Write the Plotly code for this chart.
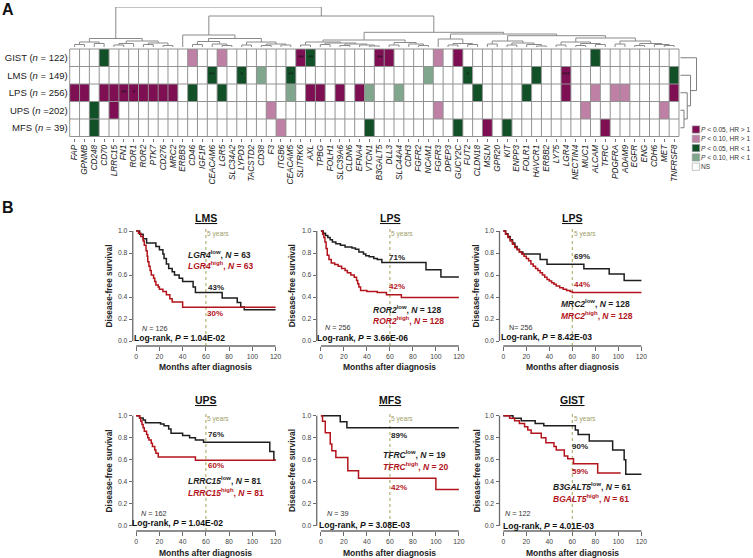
import plotly.graph_objects as go

W, H = 753, 558
FONT = "Liberation Sans, Arial, Helvetica, sans-serif"
INK = "#222222"
RED = "#b3141c"
BLK = "#1e1e1e"

# ---------------- data: heatmap ----------------
genes = ["FAP", "GPNMB", "CD248", "CD70", "LRRC15", "FN1", "ROR1", "ROR2", "PTK7", "CD276",
         "MRC2", "ERBB3", "CD46", "IGF1R", "CEACAM6", "LGR5", "SLC34A2", "LYPD3", "TACSTD2", "CD38",
         "F3", "ITGB6", "CEACAM5", "SLITRK6", "AXL", "TPBG", "FOLH1", "SLC39A6", "CLDN6", "EFNA4",
         "VTCN1", "B3GALT5", "DLL3", "SLC44A4", "CDH3", "FGFR2", "NCAM1", "FGFR3", "DPEP3", "GUCY2C",
         "FUT2", "CLDN18", "MSLN", "GPR20", "KIT", "ENPP3", "FOLR1", "HAVCR1", "ERBB2", "LY75",
         "LGR4", "NECTIN4", "MUC1", "ALCAM", "TFRC", "PDGFRA", "ADAM9", "EGFR", "ENG", "CDH6",
         "MET", "TNFRSF8"]
sarcomas = ["GIST", "LMS", "LPS", "UPS", "MFS"]
sarcoma_n = ["= 122", "= 149", "= 256", "=202", "= 39"]

# category codes: 0 NS, 1 P<0.05 HR>1, 2 P<0.10 HR>1, 3 P<0.05 HR<1, 4 P<0.10 HR<1
gist_sig = {"CD70": 3, "CD46": 2, "LGR5": 2, "SLITRK6": 1, "AXL": 3, "B3GALT5": 1, "DLL3": 1,
            "FGFR3": 2, "GUCY2C": 1, "ALCAM": 3}
lms_sig = {"CEACAM6": 3, "LYPD3": 3, "CD38": 4, "CEACAM5": 3, "NCAM1": 4, "FUT2": 3, "HAVCR1": 3,
           "LGR4": 1, "TNFRSF8": 3}
lps_sig = {"FAP": 1, "GPNMB": 1, "CD70": 1, "LRRC15": 1, "FN1": 1, "ROR1": 1, "ROR2": 1, "PTK7": 1,
           "CD276": 1, "MRC2": 1, "CD46": 3, "LGR5": 3, "CEACAM5": 4, "AXL": 1, "TPBG": 1,
           "SLC39A6": 1, "EFNA4": 1, "VTCN1": 4, "SLC44A4": 4, "CLDN18": 3, "FOLR1": 3, "LGR4": 1,
           "ALCAM": 2, "PDGFRA": 2, "ADAM9": 2, "TNFRSF8": 1}
ups_sig = {"CD248": 3, "LRRC15": 1, "F3": 2, "FGFR3": 2, "MUC1": 2, "MET": 2}
mfs_sig = {"CD248": 3, "ITGB6": 2, "VTCN1": 3, "GUCY2C": 3, "MSLN": 1, "KIT": 3, "TFRC": 1}
sig_maps = [gist_sig, lms_sig, lps_sig, ups_sig, mfs_sig]

stars = {("GIST", "SLITRK6"): "**", ("GIST", "AXL"): "**", ("GIST", "B3GALT5"): "**",
         ("LMS", "CEACAM6"): "**", ("LMS", "LYPD3"): "*", ("LMS", "CEACAM5"): "**",
         ("LMS", "FUT2"): "*", ("LMS", "LGR4"): "***", ("LPS", "FN1"): "**", ("LPS", "ROR1"): "*"}

cat_colors = ["#ffffff", "#7d0f52", "#be80a5", "#125028", "#80a68e"]
cat_labels = ["<i>P</i> &lt; 0.05, HR &gt; 1", "<i>P</i> &lt; 0.10, HR &gt; 1",
              "<i>P</i> &lt; 0.05, HR &lt; 1", "<i>P</i> &lt; 0.10, HR &lt; 1", "NS"]
legend_codes = [1, 2, 3, 4, 0]

# column dendrogram: [left, right, merge height]; leaves = column index
col_tree = [
    [[[0, 1, 2.5], [2, 3, 3.5], 5.0],
     [[[4, 5, 2.0], 6, 3.5], [[7, 8, 2.5], [9, 10, 1.5], 4.0], 6.0], 8.5],
    [[11,
      [[[12, 13, 2.5], [14, [15, 16, 1.5], 3.0], 5.5],
       [[17, 18, 2.0], [[19, 20, 1.5], [21, 22, 2.0], 3.0], 5.0], 8.5], 12.0],
     [[[[23, 24, 2.0], [[25, 26, 2.5], [[27, 28, 1.5], [29, [30, 31, 1.0], 2.0], 3.0], 4.0], 5.0],
       [[32, 33, 2.0], [34, [35, 36, 1.5], 3.0], 4.5], 7.0],
      [[37, [[38, 39, 2.0], [40, 41, 2.5], 3.5], 8.0],
       [[[42, 43, 3.0], [[44, 45, 2.0], [46, [47, 48, 1.0], 2.5], 4.0], 6.0],
        [[[49, 50, 2.0], [[51, 52, 1.5], [53, 54, 2.5], 3.5], 5.0],
         [[55, 56, 3.0], [[57, 58, 1.5], [59, [60, 61, 1.5], 2.5], 3.5], 6.0], 9.0], 11.3], 13.0],
      14.7], 31.0],
    40.0]
# row dendrogram (rows: GIST, LMS, LPS, UPS, MFS)
row_tree = [[[[3, 4, 3.7], 2, 7.0], 1, 10.3], 0, 16.3]

# ---------------- data: Kaplan-Meier curves ----------------
lgr4_low_t = [0, 3, 6, 9, 17, 20, 23, 24, 26, 28, 31, 33, 37, 40, 49, 51, 74, 87, 90, 93, 120]
lgr4_low_s = [1, 0.97, 0.93, 0.89, 0.86, 0.83, 0.79, 0.75, 0.70, 0.66, 0.63, 0.60, 0.57, 0.54, 0.49,
              0.44, 0.39, 0.35, 0.31, 0.285, 0.285]
lgr4_high_t = [0, 2, 4, 6, 7, 8.5, 9.5, 10, 11, 12, 13, 15, 16, 17, 19, 20, 23, 26, 29, 31, 40, 120]
lgr4_high_s = [1, 0.98, 0.95, 0.91, 0.87, 0.82, 0.77, 0.72, 0.68, 0.64, 0.60, 0.57, 0.54, 0.51, 0.49,
               0.47, 0.45, 0.42, 0.385, 0.355, 0.306, 0.306]

ror2_low_t = [0, 2, 4, 6, 8, 10, 13, 17, 21, 27, 30, 33, 37, 39, 42, 46, 49, 53, 91.4, 104.4, 120]
ror2_low_s = [1, 0.98, 0.96, 0.94, 0.92, 0.90, 0.885, 0.87, 0.855, 0.845, 0.835, 0.81, 0.79, 0.775,
              0.765, 0.75, 0.74, 0.713, 0.648, 0.581, 0.581]
ror2_high_t = [0, 1.5, 2.5, 3.5, 4.5, 5.5, 7, 9, 12, 15, 18, 21, 23, 26, 29, 31, 32, 33, 34.5, 40, 49,
               57, 70, 120]
ror2_high_s = [1, 0.97, 0.94, 0.90, 0.84, 0.78, 0.74, 0.71, 0.695, 0.68, 0.66, 0.64, 0.62, 0.60, 0.58,
               0.55, 0.52, 0.49, 0.46, 0.45, 0.44, 0.42, 0.395, 0.395]

mrc2_low_t = [0, 2, 4, 6, 8, 10, 12, 14, 17, 32, 38, 70, 92, 105, 120]
mrc2_low_s = [1, 0.975, 0.95, 0.92, 0.89, 0.86, 0.835, 0.81, 0.79, 0.74, 0.697, 0.657, 0.61, 0.55, 0.55]
mrc2_high_t = [0, 2, 4, 6, 8, 10, 12, 14, 16, 18, 20, 22, 24, 26, 28, 30, 32, 34, 36, 38, 40, 42, 44,
               46, 49, 52, 55, 58, 60, 120]
mrc2_high_s = [1, 0.97, 0.94, 0.91, 0.88, 0.85, 0.83, 0.81, 0.79, 0.77, 0.75, 0.73, 0.70, 0.68, 0.66,
               0.64, 0.62, 0.60, 0.58, 0.56, 0.545, 0.53, 0.515, 0.50, 0.485, 0.47, 0.46, 0.45, 0.44,
               0.44]

lrrc15_low_t = [0, 3, 6, 8, 21, 24, 28, 30, 40, 46, 51, 58, 115, 118.5, 120]
lrrc15_low_s = [1, 0.98, 0.96, 0.935, 0.925, 0.91, 0.88, 0.84, 0.82, 0.80, 0.78, 0.76, 0.675, 0.60, 0.60]
lrrc15_high_t = [0, 3, 4, 5, 6, 7, 9, 10, 11, 13, 14, 16, 17, 19, 51, 120]
lrrc15_high_s = [1, 0.98, 0.95, 0.92, 0.89, 0.86, 0.83, 0.80, 0.78, 0.75, 0.72, 0.69, 0.66, 0.625,
                 0.595, 0.595]

tfrc_low_t = [0, 16.8, 22.6, 120]
tfrc_low_s = [1, 0.945, 0.89, 0.89]
tfrc_high_t = [0, 1.4, 3.8, 8.1, 9.5, 13, 23.4, 32.7, 100, 120]
tfrc_high_s = [1, 0.95, 0.846, 0.743, 0.683, 0.622, 0.50, 0.432, 0.332, 0.332]

b3galt5_low_t = [0, 8.4, 15.6, 27.7, 35.2, 62.6, 65, 74.7, 95, 105, 106.4, 120]
b3galt5_low_s = [1, 0.976, 0.955, 0.93, 0.91, 0.87, 0.83, 0.77, 0.69, 0.60, 0.47, 0.47]
b3galt5_high_t = [0, 5.5, 9.8, 14, 18.5, 21.3, 24.2, 33, 37, 44, 46, 53, 56, 61, 82, 102]
b3galt5_high_s = [1, 0.976, 0.955, 0.93, 0.90, 0.87, 0.84, 0.80, 0.755, 0.72, 0.69, 0.635, 0.61,
                  0.565, 0.48, 0.48]

panel_titles = ["LMS", "LPS", "LPS", "UPS", "MFS", "GIST"]
panel_low = [(lgr4_low_t, lgr4_low_s), (ror2_low_t, ror2_low_s), (mrc2_low_t, mrc2_low_s),
             (lrrc15_low_t, lrrc15_low_s), (tfrc_low_t, tfrc_low_s), (b3galt5_low_t, b3galt5_low_s)]
panel_high = [(lgr4_high_t, lgr4_high_s), (ror2_high_t, ror2_high_s), (mrc2_high_t, mrc2_high_s),
              (lrrc15_high_t, lrrc15_high_s), (tfrc_high_t, tfrc_high_s),
              (b3galt5_high_t, b3galt5_high_s)]
gene_low = ["LGR4", "ROR2", "MRC2", "LRRC15", "TFRC", "B3GALT5"]
gene_high = ["LGR4", "ROR2", "MRC2", "LRRC15", "TFRC", "BGALT5"]
n_low = [63, 128, 128, 81, 19, 61]
n_high = [63, 128, 128, 81, 20, 61]
pct_low = ["43%", "71%", "69%", "76%", "89%", "90%"]
pct_high = ["30%", "42%", "44%", "60%", "42%", "59%"]
n_total = ["<i>N</i> = 126", "<i>N</i> = 256", "N= 256", "<i>N</i> = 162", "<i>N</i> = 39",
           "<i>N</i> = 122"]
logrank_p = ["1.04E-02", "3.66E-06", "8.42E-03", "1.04E-02", "3.08E-03", "4.01E-03"]
x_ticks = [0, 20, 40, 60, 80, 100, 120]
y_ticks = [0, 0.2, 0.4, 0.6, 0.8, 1.0]
five_years = 60

# ---------------- helpers ----------------
def fx(px):
    return px / W


def fy(py):
    return 1 - py / H


fig = go.Figure()


def note(x, y, text, size, color=INK, xanchor="left", angle=0):
    fig.add_annotation(x=fx(x), y=fy(y), xref="paper", yref="paper", text=text, showarrow=False,
                       xanchor=xanchor, yanchor="middle", textangle=angle, borderpad=0,
                       borderwidth=0, font=dict(family=FONT, size=size, color=color))


def dendro(node, segs):
    if isinstance(node, int):
        return float(node), 0.0
    a, b, h = node
    pa, ha = dendro(a, segs)
    pb, hb = dendro(b, segs)
    segs.append(((pa, ha), (pa, h), (pb, h), (pb, hb)))
    return (pa + pb) / 2.0, h


# ---------------- heatmap ----------------
ncol, nrow = len(genes), len(sarcomas)
z = [[sig.get(g, 0) for g in genes] for sig in sig_maps]
txt = [[stars.get((s, g), "") for g in genes] for s in sarcomas]
cscale = []
for i, c in enumerate(cat_colors):
    cscale += [[i / 5, c], [(i + 1) / 5, c]]
fig.add_trace(go.Heatmap(z=z, x=list(range(ncol)), y=list(range(nrow)), text=txt,
                         texttemplate="%{text}", textfont=dict(size=6.5, color="#151515"),
                         colorscale=cscale, zmin=-0.5, zmax=4.5, showscale=False,
                         hoverinfo="skip", xaxis="x", yaxis="y"))
gx, gy = [], []
for k in range(ncol + 1):
    gx += [k - 0.5, k - 0.5, None]
    gy += [-0.5, nrow - 0.5, None]
for r in range(nrow + 1):
    gx += [-0.5, ncol - 0.5, None]
    gy += [r - 0.5, r - 0.5, None]
fig.add_trace(go.Scatter(x=gx, y=gy, mode="lines", line=dict(color="#929292", width=1),
                         hoverinfo="skip", xaxis="x", yaxis="y"))

# dendrograms
segs = []
dendro(col_tree, segs)
dx, dy = [], []
for s in segs:
    dx += [p[0] for p in s] + [None]
    dy += [p[1] for p in s] + [None]
fig.add_trace(go.Scatter(x=dx, y=dy, mode="lines", line=dict(color="#8a8a8a", width=1),
                         hoverinfo="skip", xaxis="x2", yaxis="y2"))
segs = []
dendro(row_tree, segs)
rx, ry = [], []
for s in segs:
    rx += [p[1] for p in s] + [None]
    ry += [p[0] for p in s] + [None]
fig.add_trace(go.Scatter(x=rx, y=ry, mode="lines", line=dict(color="#7e7e7e", width=1),
                         hoverinfo="skip", xaxis="x3", yaxis="y3"))

# heatmap geometry (pixels)
HX0, HX1, HY0, HY1 = 70, 681.7, 49, 136.5
cw = (HX1 - HX0) / ncol
rh = (HY1 - HY0) / nrow
ex, ey = 0.1, 0.06
hm_xdom = [fx(HX0 - ex * cw), fx(HX1 + ex * cw)]
hm_ydom = [fy(HY1 + ey * rh), fy(HY0 - ey * rh)]
hm_xr = [-0.5 - ex, ncol - 0.5 + ex]
hm_yr = [nrow - 0.5 + ey, -0.5 - ey]

layout = dict(
    width=W, height=H, margin=dict(l=0, r=0, t=0, b=0),
    paper_bgcolor="white", plot_bgcolor="white", showlegend=False,
    font=dict(family=FONT, color=INK),
    xaxis=dict(domain=hm_xdom, range=hm_xr, tickvals=list(range(ncol)),
               ticktext=[f"<i>{g}</i>" for g in genes], tickangle=-90, ticks="outside",
               ticklen=3, tickcolor="#777", tickwidth=1, showgrid=False, zeroline=False,
               tickfont=dict(size=8.2, color=INK), anchor="y", showline=False),
    yaxis=dict(domain=hm_ydom, range=hm_yr, tickvals=list(range(nrow)),
               ticktext=[f"{s} (<i>n</i> {n})" for s, n in zip(sarcomas, sarcoma_n)],
               ticks="", showgrid=False, zeroline=False, tickfont=dict(size=9.5, color=INK),
               anchor="x", showline=False),
    xaxis2=dict(domain=hm_xdom, range=hm_xr, visible=False, anchor="y2"),
    yaxis2=dict(domain=[fy(47), fy(7)], range=[0, 40], visible=False, anchor="x2"),
    xaxis3=dict(domain=[fx(683), fx(700)], range=[0, 17], visible=False, anchor="y3"),
    yaxis3=dict(domain=hm_ydom, range=hm_yr, visible=False, anchor="x3"),
)

shapes = []

# legend
for i, (code, lab) in enumerate(zip(legend_codes, cat_labels)):
    cy = 129.5 + 9.3 * i
    shapes.append(dict(type="rect", xref="paper", yref="paper", x0=fx(695), x1=fx(702.5),
                       y0=fy(cy + 3.6), y1=fy(cy - 3.6), fillcolor=cat_colors[code],
                       line=dict(color="#9a9a9a", width=0.6)))
    note(704, cy, lab, 6.6, color="#333")

# ---------------- Kaplan-Meier panels ----------------
col_zero = [136.7, 322.2, 505.3]
col_end = [276.7, 460.7, 644.0]
col_yline = [133.3, 318.0, 501.5]
col_ytitle = [109.0, 293.3, 478.3]
row_top = [231.0, 415.7]
row_zero = [341.0, 526.0]
row_xline = [346.0, 531.0]
row_title = [218.0, 400.0]
row_xtitle = [366.7, 552.7]
text_pos = [
    dict(lo=(189, 254.3), hi=(189, 266), pl=(208.5, 287.5), ph=(208, 313.5), n=(143, 328), lr=(135, 337.5)),
    dict(lo=(374, 309), hi=(374, 320.5), pl=(391, 257), ph=(391, 286.5), n=(326, 327.5), lr=(318, 337.8)),
    dict(lo=(563, 303.3), hi=(563, 315.7), pl=(576, 256.7), ph=(576, 284.3), n=(511, 327.7), lr=(503, 337.2)),
    dict(lo=(189, 480.7), hi=(189, 492.3), pl=(209, 434.3), ph=(209, 465), n=(142, 513), lr=(133, 522.8)),
    dict(lo=(385, 454), hi=(385, 466), pl=(393, 435.7), ph=(393, 487.7), n=(328, 513.3), lr=(320, 524.8)),
    dict(lo=(555, 486.7), hi=(555, 498.3), pl=(574, 446.7), ph=(574, 471), n=(507, 513), lr=(505, 525.5)),
]
YMAX = 1.04
AXC = "#6a6a6a"

for i in range(6):
    r, c = divmod(i, 3)
    ax = i + 4
    xa, ya = f"x{ax}", f"y{ax}"
    zero, end, yl = col_zero[c], col_end[c], col_yline[c]
    k = (end - zero) / 120.0
    xmin = -(zero - yl) / k
    xmax = 120 + 2.5 / k
    top1, bot0, xl = row_top[r], row_zero[r], row_xline[r]
    ky = bot0 - top1
    ymin = -(xl - bot0) / ky
    layout[f"xaxis{ax}"] = dict(domain=[fx(yl), fx(end + 2.5)], range=[xmin, xmax], anchor=ya,
                                tickvals=x_ticks, ticks="outside", ticklen=4, tickcolor=AXC,
                                tickwidth=1.2, showgrid=False, zeroline=False, showline=False,
                                tickfont=dict(size=6.8, color="#444"))
    layout[f"yaxis{ax}"] = dict(domain=[fy(xl), fy(bot0 - YMAX * ky)], range=[ymin, YMAX],
                                anchor=xa, tickvals=y_ticks,
                                ticktext=[f"{v:.1f}" for v in y_ticks], ticks="outside",
                                ticklen=3, tickcolor=AXC, tickwidth=1.2, showgrid=False,
                                zeroline=False, showline=False,
                                tickfont=dict(size=6.8, color="#444"))
    # axis lines (Prism style, detached)
    shapes.append(dict(type="line", xref="paper", yref="paper", x0=fx(yl), x1=fx(yl),
                       y0=fy(bot0), y1=fy(top1), line=dict(color=AXC, width=1.3)))
    shapes.append(dict(type="line", xref="paper", yref="paper", x0=fx(zero), x1=fx(end),
                       y0=fy(xl), y1=fy(xl), line=dict(color=AXC, width=1.3)))
    # 5-year reference line
    shapes.append(dict(type="line", xref=xa, yref=ya, x0=five_years, x1=five_years, y0=ymin,
                       y1=YMAX, line=dict(color="#b8b87e", width=1.3, dash="dot"), layer="below"))
    # curves
    for (t, s), col in ((panel_low[i], BLK), (panel_high[i], RED)):
        fig.add_trace(go.Scatter(x=t, y=s, mode="lines", line=dict(color=col, width=1.5, shape="hv"),
                                 hoverinfo="skip", xaxis=xa, yaxis=ya))
    # texts
    cx = (zero + end) / 2
    note(cx, row_title[r], f"<b><u>{panel_titles[i]}</u></b>", 10.5, color="#111", xanchor="center")
    note(col_ytitle[c], (top1 + bot0) / 2, "<b>Disease-free survival</b>", 8.3, color="#222",
         xanchor="center", angle=-90)
    note(cx, row_xtitle[r], "<b>Months after diagnosis</b>", 8.5, color="#222", xanchor="center")
    x5 = zero + five_years * k
    note(x5 + 1.5, top1 + 3.3, "5 years", 6.6, color="#a0a06a")
    tp = text_pos[i]
    note(*tp["lo"], f"<b><i>{gene_low[i]}</i><sup>low</sup>, <i>N</i> = {n_low[i]}</b>", 8.5, color=BLK)
    note(*tp["hi"], f"<b><i>{gene_high[i]}</i><sup>high</sup>, <i>N</i> = {n_high[i]}</b>", 8.5, color=RED)
    note(*tp["pl"], f"<b>{pct_low[i]}</b>", 8, color=BLK)
    note(*tp["ph"], f"<b>{pct_high[i]}</b>", 8, color=RED)
    note(*tp["n"], n_total[i], 7.2, color="#333")
    note(*tp["lr"], f"<b>Log-rank, <i>P</i> = {logrank_p[i]}</b>", 8.5, color="#111")

# panel letters
note(8, 10, "<b>A</b>", 16, color="#111", xanchor="center")
note(8, 207, "<b>B</b>", 16, color="#111", xanchor="center")

layout["shapes"] = shapes
fig.update_layout(**layout)
fig.write_html("out.html", config={"displayModeBar": False})
